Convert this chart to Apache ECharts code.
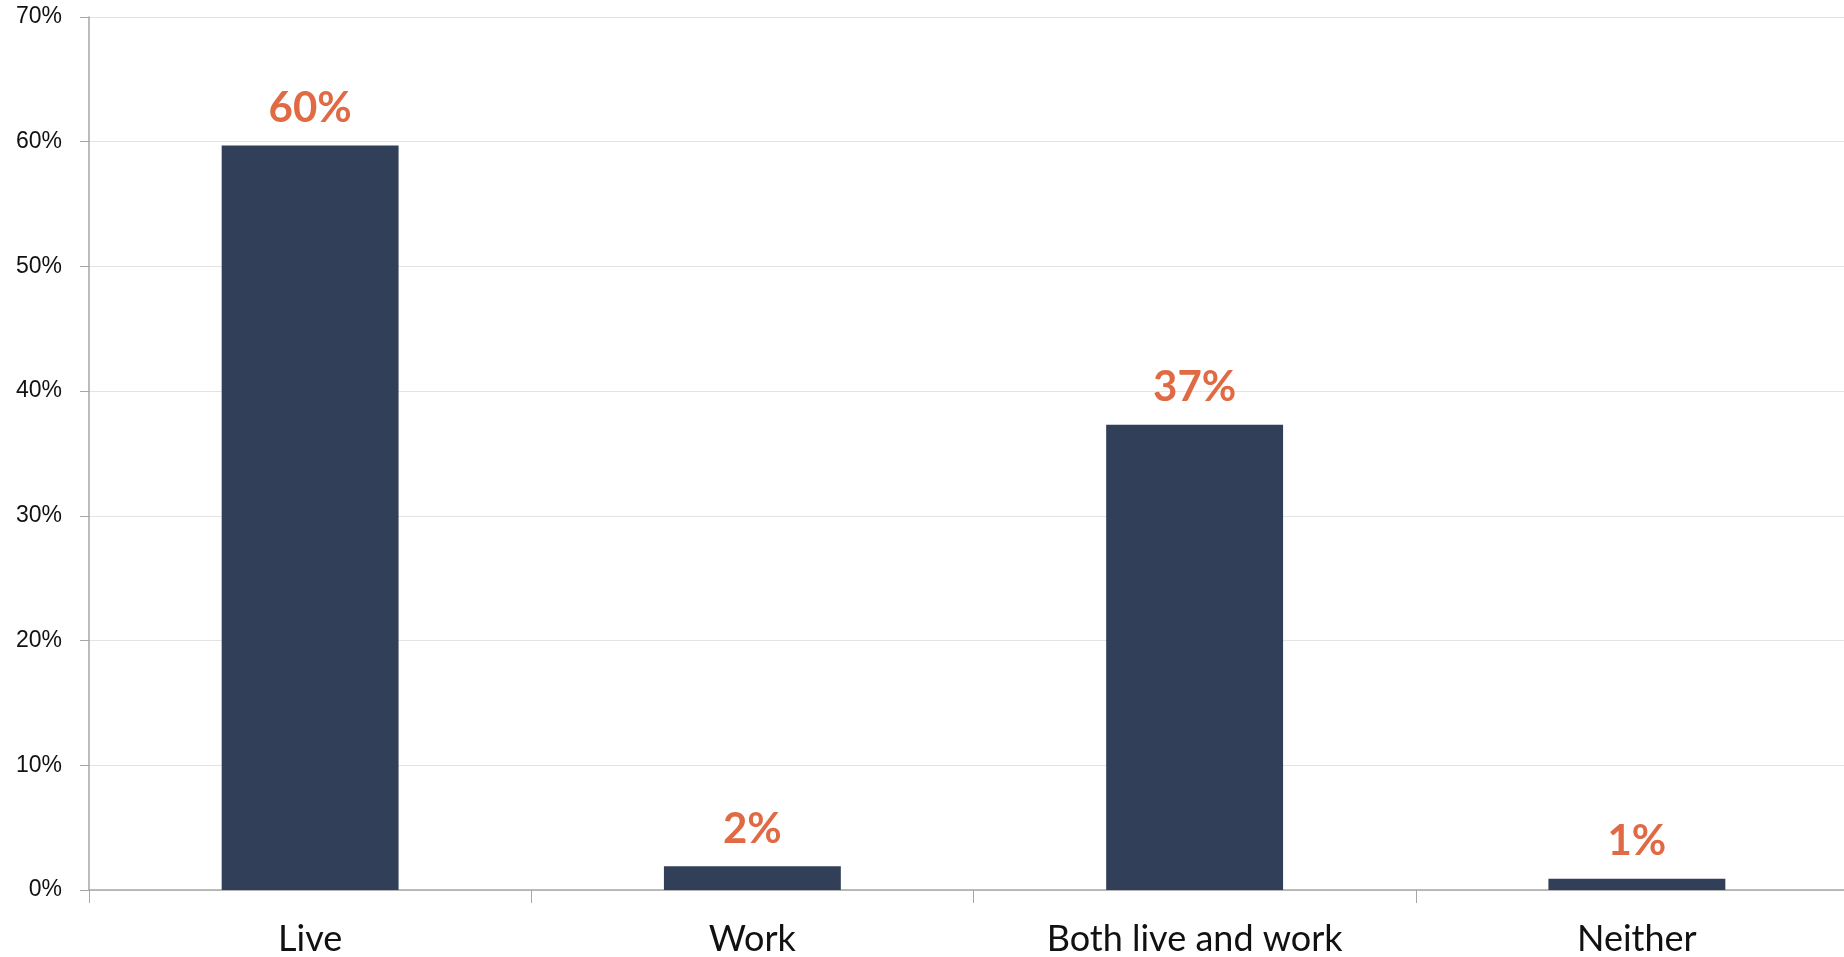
<!DOCTYPE html>
<html>
<head>
<meta charset="utf-8">
<script src="https://cdn.jsdelivr.net/npm/echarts@6/dist/echarts.min.js"></script>
<style>
  html, body { margin: 0; padding: 0; background: #ffffff; overflow: hidden; }
  /* plot runs slightly past the right edge of the window */
  #chart { width: 1860px; height: 957px; }
</style>
</head>
<body>
<div id="chart"></div>
<script>
// Share of respondents by where they live / work
const categories = ['Live', 'Work', 'Both live and work', 'Neither'];
const shares = [59.7, 1.9, 37.3, 0.9];
const yTicks = { min: 0, max: 70, interval: 10 };

const chart = echarts.init(document.getElementById('chart'));

chart.setOption({
  backgroundColor: '#ffffff',
  animation: false,
  grid: { left: 89, top: 17, width: 1769, height: 874, containLabel: false },
  xAxis: {
    type: 'category',
    data: categories,
    axisLine: { show: true, lineStyle: { color: '#a6a6a6', width: 1.5 } },
    axisTick: { show: true, length: 13, lineStyle: { color: '#a6a6a6', width: 1 } },
    axisLabel: {
      color: '#111111',
      fontFamily: 'Lato',
      fontSize: 36,
      margin: 31
    }
  },
  yAxis: {
    type: 'value',
    min: yTicks.min,
    max: yTicks.max,
    interval: yTicks.interval,
    axisLine: { show: true, lineStyle: { color: '#a6a6a6', width: 1.5 } },
    axisTick: { show: true, length: 9, lineStyle: { color: '#a6a6a6', width: 1 } },
    splitLine: { show: true, lineStyle: { color: '#e3e3e3', width: 1.2 } },
    axisLabel: {
      formatter: '{value}%',
      color: '#111111',
      fontFamily: 'Liberation Sans',
      fontSize: 23,
      margin: 27
    }
  },
  series: [{
    type: 'bar',
    data: shares,
    barWidth: '40%',
    itemStyle: { color: '#323f58' },
    label: {
      show: true,
      position: 'top',
      distance: 16,
      color: '#e06a43',
      fontFamily: 'Lato',
      fontWeight: 'bold',
      fontSize: 42,
      formatter: p => Math.round(p.value) + '%'
    }
  }]
});
</script>
</body>
</html>
